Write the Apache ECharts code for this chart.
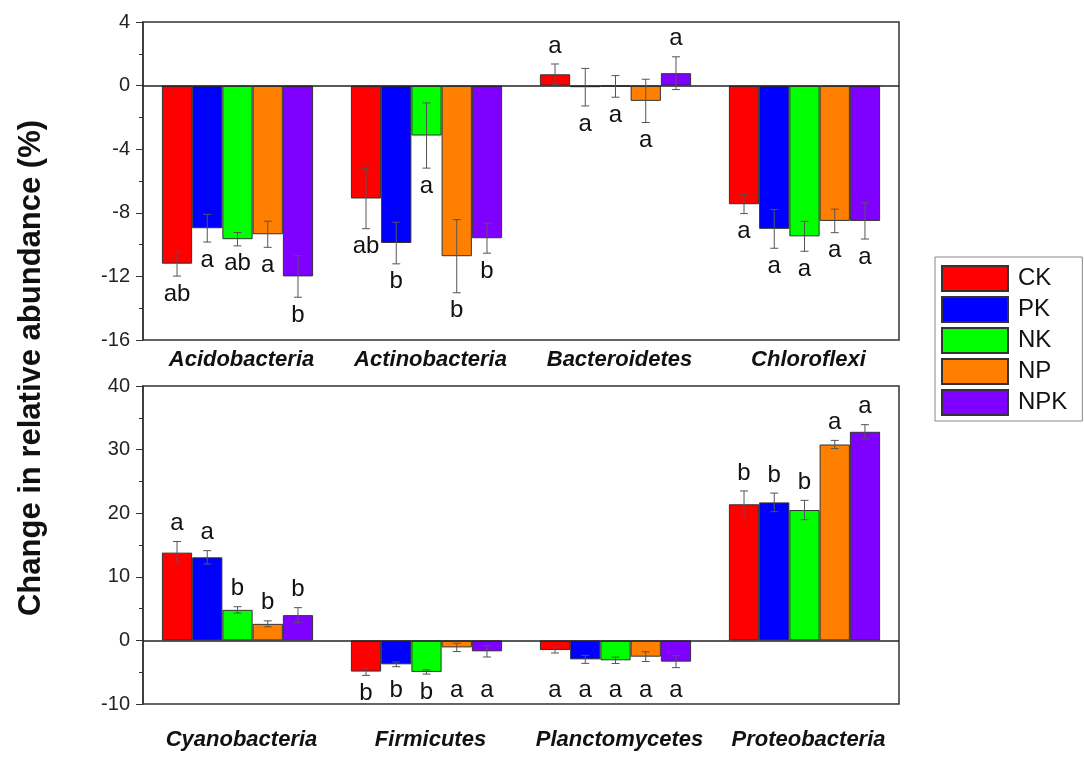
<!DOCTYPE html>
<html>
<head>
<meta charset="utf-8">
<script src="https://cdn.jsdelivr.net/npm/echarts@6/dist/echarts.min.js"></script>
<style>
  html, body { margin: 0; padding: 0; background: #fff; }
  #chart { width: 1084px; height: 758px; }
</style>
</head>
<body>
<div id="chart"></div>
<script>
// phyla, two panels
var topCats = ['Acidobacteria', 'Actinobacteria', 'Bacteroidetes', 'Chloroflexi'];
var bottomCats = ['Cyanobacteria', 'Firmicutes', 'Planctomycetes', 'Proteobacteria'];
var treatments = ['CK', 'PK', 'NK', 'NP', 'NPK'];
var colors = ['#ff0000', '#0000ff', '#00ff00', '#ff8000', '#8000ff'];

// one row per phylum, columns follow treatments
var topMean = [
  [-11.2, -8.97, -9.66, -9.35, -12.0],
  [-7.1, -9.9, -3.14, -10.73, -9.6],
  [0.71, -0.1, -0.05, -0.96, 0.78],
  [-7.46, -9.01, -9.48, -8.51, -8.51]
];
var topErr = [
  [0.78, 0.87, 0.42, 0.82, 1.31],
  [1.9, 1.31, 2.05, 2.3, 0.94],
  [0.65, 1.18, 0.68, 1.36, 1.03],
  [0.59, 1.22, 0.94, 0.74, 1.14]
];
var topSig = [
  ['ab', 'a', 'ab', 'a', 'b'],
  ['ab', 'b', 'a', 'b', 'b'],
  ['a', 'a', 'a', 'a', 'a'],
  ['a', 'a', 'a', 'a', 'a']
];

var bottomMean = [
  [13.8, 13.06, 4.8, 2.6, 3.97],
  [-4.9, -3.76, -4.96, -1.1, -1.72],
  [-1.52, -2.98, -3.13, -2.56, -3.34],
  [21.4, 21.7, 20.5, 30.8, 32.8]
];
var bottomErr = [
  [1.75, 1.05, 0.5, 0.47, 1.18],
  [0.6, 0.37, 0.34, 0.65, 0.89],
  [0.46, 0.63, 0.5, 0.76, 0.94],
  [2.1, 1.46, 1.52, 0.65, 1.12]
];
var bottomSig = [
  ['a', 'a', 'b', 'b', 'b'],
  ['b', 'b', 'b', 'a', 'a'],
  ['a', 'a', 'a', 'a', 'a'],
  ['b', 'b', 'b', 'a', 'a']
];

var FONT = '"Liberation Sans", Arial, sans-serif';
var chart = echarts.init(document.getElementById('chart'));

var panels = [
  { cats: topCats, mean: topMean, err: topErr, sig: topSig, floor: null },
  { cats: bottomCats, mean: bottomMean, err: bottomErr, sig: bottomSig, floor: -5 }
];

function errorRenderer(panel, k) {
  return function (params, api) {
    var c = api.value(0), v = api.value(1), e = api.value(2);
    var barW = api.size([1, 0])[0] * 0.8 / 5;
    var x = api.coord([c, v])[0] + (k - 2) * barW;
    var yTop = api.coord([c, v + e])[1];
    var yBot = api.coord([c, v - e])[1];
    var ls = { stroke: '#555', lineWidth: 1 };
    var ty;
    if (v >= 0) {
      ty = yTop - 18;
    } else {
      var low = v - e;
      if (panel.floor != null) low = Math.min(low, panel.floor);
      ty = api.coord([c, low])[1] + 18;
    }
    return {
      type: 'group',
      children: [
        { type: 'line', shape: { x1: x, y1: yTop, x2: x, y2: yBot }, style: ls },
        { type: 'line', shape: { x1: x - 4, y1: yTop, x2: x + 4, y2: yTop }, style: ls },
        { type: 'line', shape: { x1: x - 4, y1: yBot, x2: x + 4, y2: yBot }, style: ls },
        { type: 'text', x: x, y: ty, style: {
            text: panel.sig[c][k], fill: '#111', fontSize: 24, fontFamily: FONT,
            align: 'center', verticalAlign: 'middle' } }
      ]
    };
  };
}

var series = [];
panels.forEach(function (panel, g) {
  treatments.forEach(function (t, k) {
    var s = {
      name: t,
      type: 'bar',
      xAxisIndex: g,
      yAxisIndex: g,
      barGap: '0%',
      barCategoryGap: '20%',
      itemStyle: { color: colors[k], borderColor: '#333', borderWidth: 1 },
      data: panel.mean.map(function (row) { return row[k]; })
    };
    if (k === 0) {
      s.markLine = {
        silent: true, symbol: 'none', label: { show: false },
        lineStyle: { color: '#222', width: 1.5, type: 'solid' },
        data: [{ yAxis: 0 }]
      };
    }
    series.push(s);
  });
  treatments.forEach(function (t, k) {
    series.push({
      type: 'custom',
      xAxisIndex: g,
      yAxisIndex: g,
      z: 5,
      renderItem: errorRenderer(panel, k),
      data: panel.mean.map(function (row, c) { return [c, row[k], panel.err[c][k]]; })
    });
  });
});

function yAxisOf(g, min, max, interval) {
  return {
    type: 'value', gridIndex: g, min: min, max: max, interval: interval,
    axisLine: { show: true, lineStyle: { color: '#333', width: 1.5 } },
    axisTick: { show: true, length: 7, lineStyle: { color: '#333' } },
    minorTick: { show: true, splitNumber: 2, length: 4, lineStyle: { color: '#333' } },
    splitLine: { show: false },
    axisLabel: { fontSize: 20, color: '#222', fontFamily: FONT, margin: 13 }
  };
}

function xAxisOf(g, cats, margin) {
  return {
    type: 'category', gridIndex: g, data: cats,
    axisLine: { show: false }, axisTick: { show: false },
    axisLabel: { interval: 0, fontSize: 22, fontWeight: 'bold', fontStyle: 'italic', color: '#111',
      fontFamily: FONT, margin: margin, padding: [0, 0, 0, 8] }
  };
}

chart.setOption({
  animation: false,
  backgroundColor: '#fff',
  grid: [
    { left: 143, top: 22, width: 756, height: 318, show: true, borderColor: '#333', borderWidth: 1.5 },
    { left: 143, top: 386, width: 756, height: 318, show: true, borderColor: '#333', borderWidth: 1.5 }
  ],
  xAxis: [xAxisOf(0, topCats, 9), xAxisOf(1, bottomCats, 25)],
  yAxis: [yAxisOf(0, -16, 4, 4), yAxisOf(1, -10, 40, 10)],
  legend: {
    data: treatments,
    orient: 'vertical',
    left: 935,
    top: 257,
    padding: [8, 15, 5, 6],
    itemWidth: 66,
    itemHeight: 25,
    itemGap: 4,
    icon: 'rect',
    borderColor: '#888',
    borderWidth: 1,
    textStyle: { fontSize: 24, lineHeight: 27, color: '#111', fontFamily: FONT, padding: [0, 0, 0, 5] }
  },
  graphic: [{
    type: 'text', x: 31, y: 368, rotation: Math.PI / 2,
    style: { text: 'Change in relative abundance (%)', fontSize: 31, fontWeight: 'bold',
      fontFamily: FONT, fill: '#111', align: 'center', verticalAlign: 'middle' }
  }],
  series: series
});
</script>
</body>
</html>
